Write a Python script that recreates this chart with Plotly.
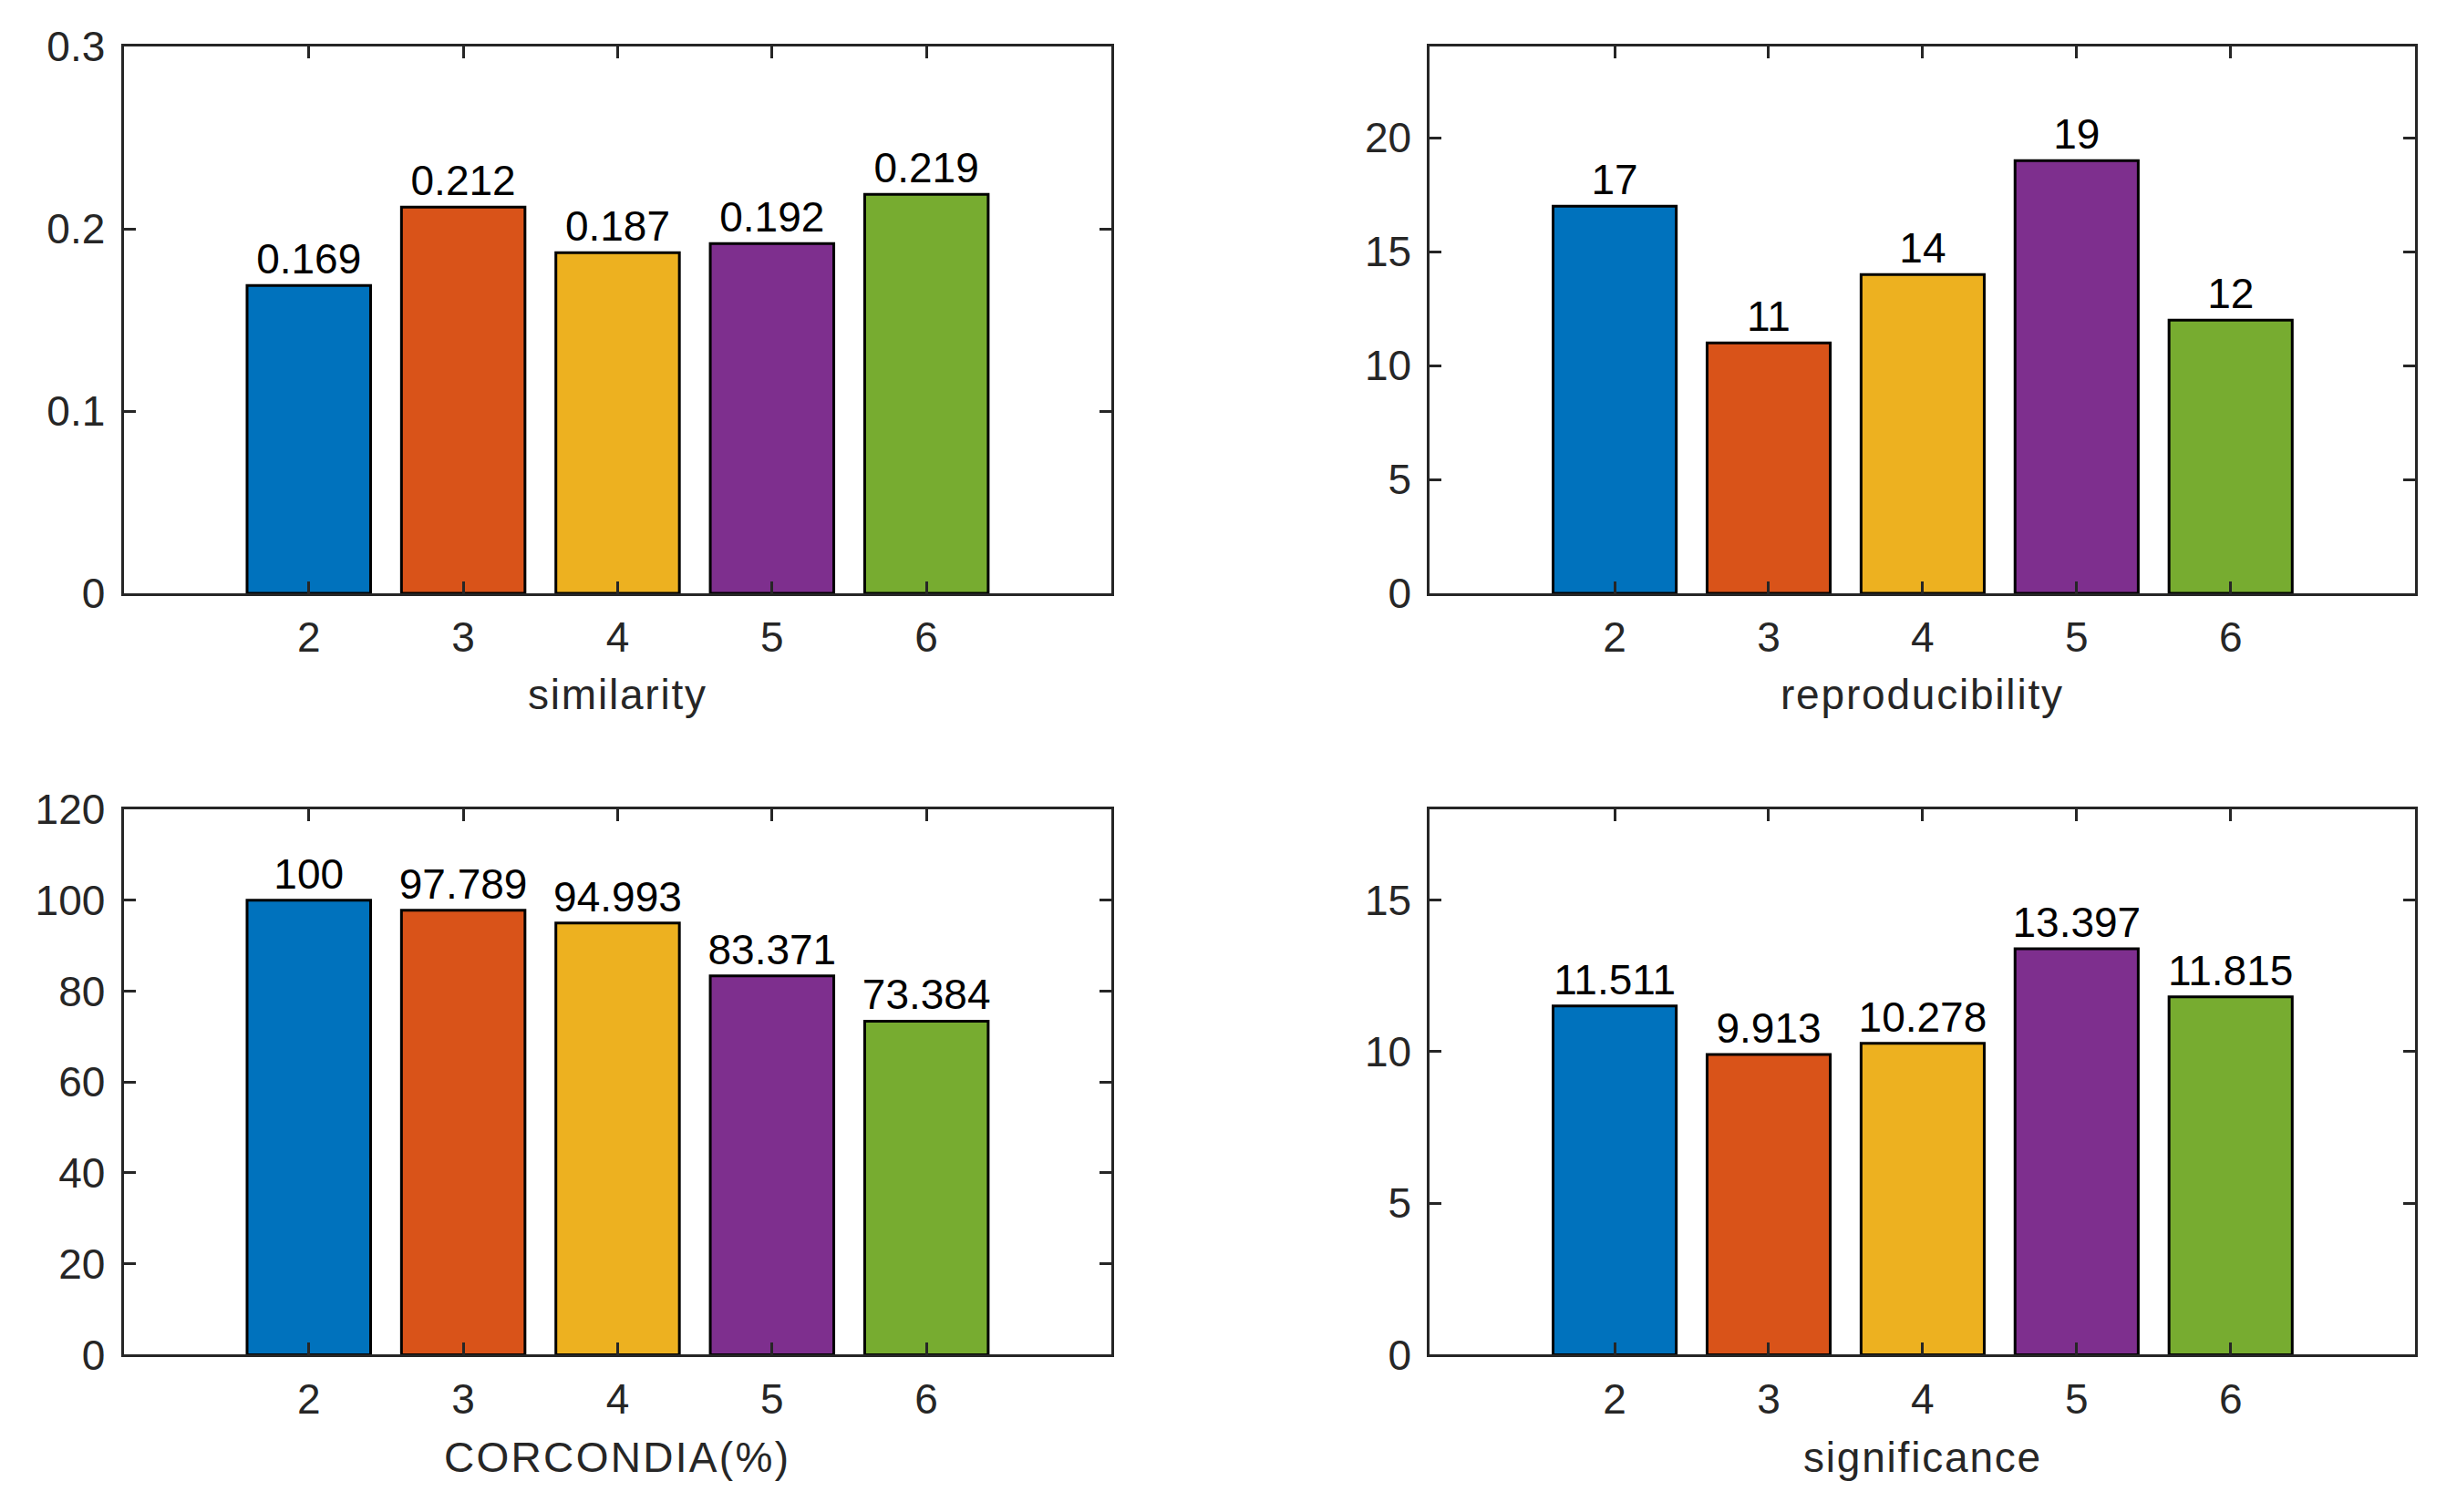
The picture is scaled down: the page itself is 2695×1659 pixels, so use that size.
import plotly.graph_objects as go

categories = [2, 3, 4, 5, 6]
similarity = [0.169, 0.212, 0.187, 0.192, 0.219]
reproducibility = [17, 11, 14, 19, 12]
corcondia = [100, 97.789, 94.993, 83.371, 73.384]
significance = [11.511, 9.913, 10.278, 13.397, 11.815]

titles = ["similarity", "reproducibility", "CORCONDIA(%)", "significance"]
series = [similarity, reproducibility, corcondia, significance]
y_ranges = [[0, 0.3], [0, 24], [0, 120], [0, 18]]
y_ticks = [[0, 0.1, 0.2, 0.3], [0, 5, 10, 15, 20], [0, 20, 40, 60, 80, 100, 120], [0, 5, 10, 15]]

colors = ["#0072BD", "#D95319", "#EDB120", "#7E2F8E", "#77AC30"]

W, H = 2695, 1659
FONT = "Liberation Sans, Arial, Helvetica, sans-serif"
FS = 46
AX = "#262626"

x_domains = [[127.5 / W, 1211.4 / W], [1560.4 / W, 2641.4 / W]]
y_domains = [[1 - 637 / H, 1 - 17.9 / H], [1 - 1499.5 / H, 1 - 881.6 / H]]
title_y = [1 - 752 / H, 1 - 1616 / H]
title_spacing = ["1.8px", "1.8px", "2.3px", "1.8px"]

fig = go.Figure()
layout = dict(
    width=W, height=H,
    margin=dict(l=0, r=0, t=0, b=0),
    paper_bgcolor="white", plot_bgcolor="white",
    showlegend=False,
    font=dict(family=FONT, size=FS, color=AX),
    annotations=[],
)

for i in range(4):
    r, c = divmod(i, 2)
    n = i + 1
    xa = "x" if n == 1 else f"x{n}"
    ya = "y" if n == 1 else f"y{n}"
    fig.add_trace(go.Bar(
        x=categories, y=series[i], width=0.8,
        marker=dict(color=colors, line=dict(color="black", width=3)),
        texttemplate="%{y}", textposition="outside",
        textfont=dict(family=FONT, size=FS, color="black"),
        constraintext="none", cliponaxis=False,
        xaxis=xa, yaxis=ya, hoverinfo="skip",
    ))
    common = dict(
        showline=True, linecolor=AX, linewidth=3, mirror="ticks",
        ticks="inside", ticklen=13, tickwidth=2.5, tickcolor=AX,
        showgrid=False, zeroline=False, fixedrange=True,
        tickfont=dict(family=FONT, size=FS, color=AX),
    )
    layout[f"xaxis{'' if n == 1 else n}"] = dict(
        common, domain=x_domains[c], range=[0.8, 7.2],
        tickvals=categories, anchor=ya, ticklabelstandoff=6,
    )
    layout[f"yaxis{'' if n == 1 else n}"] = dict(
        common, domain=y_domains[r], range=y_ranges[i],
        tickvals=y_ticks[i], anchor=xa, ticklabelstandoff=8,
    )
    layout["annotations"].append(dict(
        text=f'<span style="letter-spacing:{title_spacing[i]}">{titles[i]}</span>',
        xref="paper", yref="paper",
        x=sum(x_domains[c]) / 2, y=title_y[r],
        xanchor="center", yanchor="middle", showarrow=False,
        font=dict(family=FONT, size=FS, color=AX),
    ))

fig.update_layout(**layout)
fig.write_html("out.html")
